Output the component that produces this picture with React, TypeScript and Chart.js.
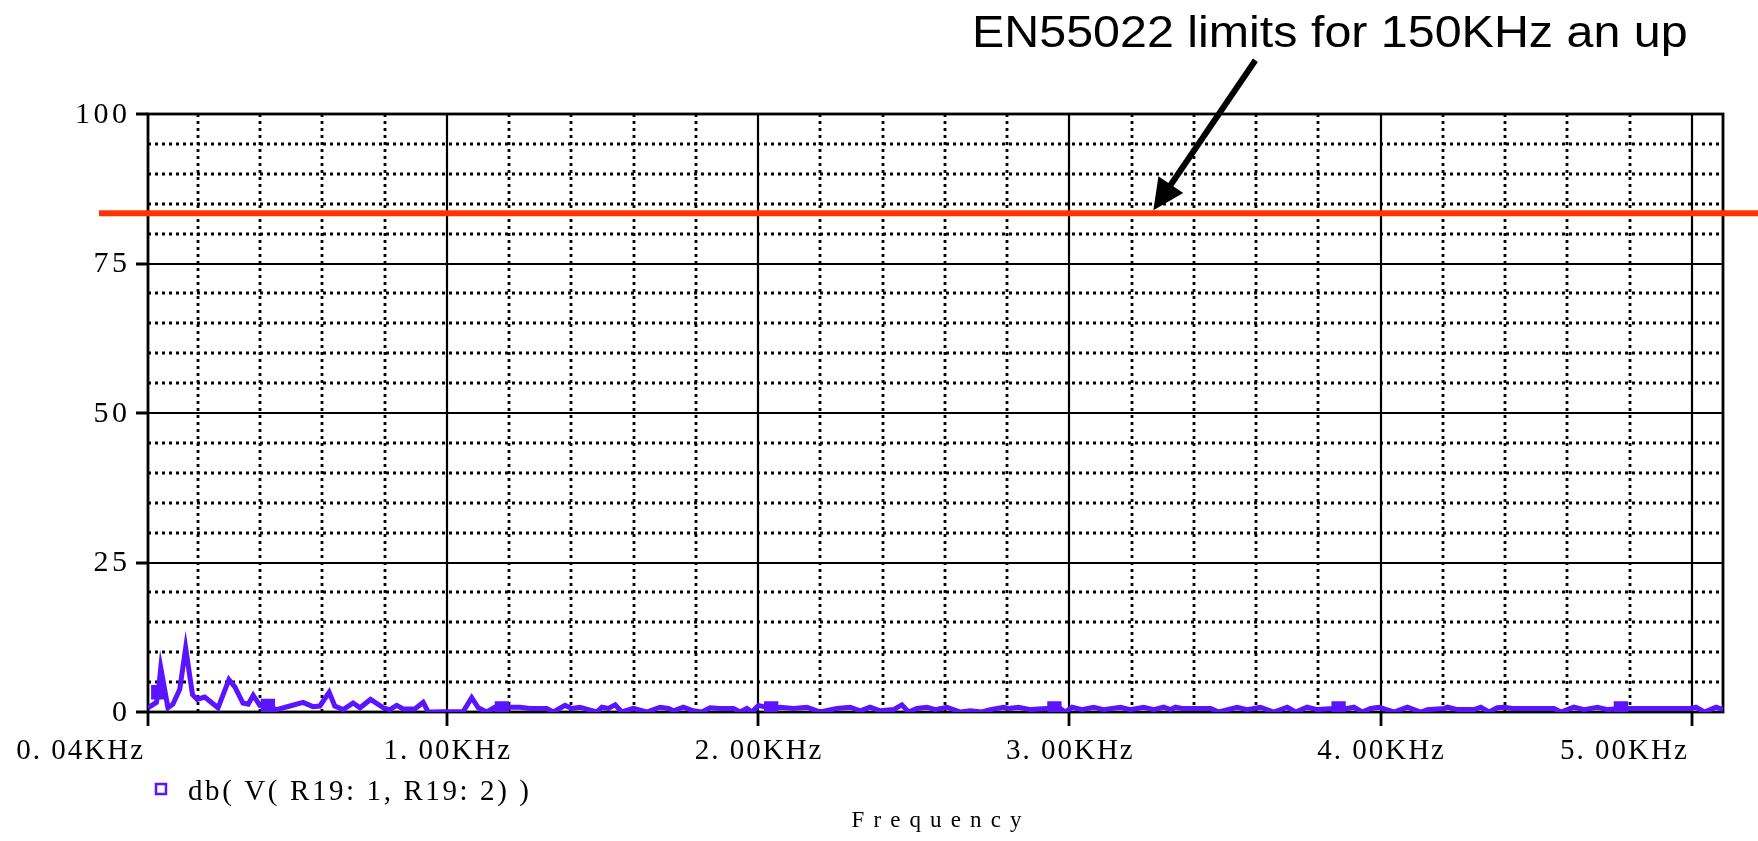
import React, { useEffect, useRef } from "react";
import { Chart, registerables } from "chart.js";

Chart.register(...registerables);

// ---------- data ----------
const freqKHz = [
  0.04, 0.067, 0.073, 0.081, 0.104, 0.12, 0.142, 0.161, 0.183, 0.198, 0.222, 0.265, 0.3, 0.319, 0.345, 0.362,
  0.378, 0.399, 0.425, 0.453, 0.496, 0.538, 0.57, 0.592, 0.622, 0.64, 0.667, 0.699, 0.721, 0.755, 0.796, 0.817,
  0.839, 0.86, 0.897, 0.924, 0.94, 1.053, 1.08, 1.101, 1.128, 1.155, 1.177, 1.201, 1.235, 1.267, 1.321, 1.342,
  1.38, 1.401, 1.428, 1.455, 1.482, 1.498, 1.519, 1.541, 1.562, 1.599, 1.642, 1.685, 1.712, 1.728, 1.76, 1.792,
  1.819, 1.846, 1.878, 1.921, 1.942, 1.964, 1.98, 2.001, 2.042, 2.071, 2.114, 2.157, 2.2, 2.253, 2.296, 2.328,
  2.36, 2.392, 2.435, 2.462, 2.483, 2.51, 2.543, 2.569, 2.607, 2.65, 2.682, 2.719, 2.746, 2.789, 2.805, 2.837,
  2.875, 2.928, 2.952, 2.971, 2.987, 3.009, 3.041, 3.078, 3.11, 3.164, 3.196, 3.239, 3.271, 3.303, 3.325, 3.341,
  3.362, 3.454, 3.48, 3.539, 3.571, 3.614, 3.657, 3.7, 3.727, 3.764, 3.797, 3.85, 3.865, 3.893, 3.914, 3.941,
  3.968, 3.995, 4.043, 4.086, 4.129, 4.15, 4.204, 4.215, 4.247, 4.3, 4.322, 4.348, 4.375, 4.397, 4.424, 4.557,
  4.579, 4.621, 4.654, 4.697, 4.729, 4.772, 4.814, 4.997, 5.013, 5.04, 5.078, 5.1,
];
const magDb = [
  0.7, 1.6, 3.3, 7.4, 0.7, 1.3, 3.8, 10.7, 2.9, 2.1, 2.5, 0.7, 5.4, 4.2, 1.5, 1.3,
  2.8, 1.1, 1.0, 0.4, 1.0, 1.6, 0.9, 1.0, 3.3, 1.0, 0.4, 1.5, 0.7, 2.1, 0.7, 0.4,
  1.1, 0.5, 0.5, 1.6, 0.0, 0.1, 2.4, 0.7, 0.0, 0.8, 0.6, 0.8, 0.8, 0.6, 0.6, 0.0,
  1.1, 0.6, 0.8, 0.4, 0.0, 0.8, 0.6, 1.2, 0.0, 0.6, 0.0, 0.8, 0.6, 0.2, 0.8, 0.2,
  0.0, 0.7, 0.6, 0.6, 0.0, 0.6, 0.0, 1.1, 0.6, 0.8, 0.6, 0.8, 0.0, 0.6, 0.8, 0.2,
  0.8, 0.2, 0.4, 1.2, 0.0, 0.6, 0.8, 0.4, 0.8, 0.0, 0.2, 0.0, 0.4, 0.8, 0.6, 0.8,
  0.4, 0.6, 0.6, 0.6, 0.0, 0.8, 0.4, 0.8, 0.4, 0.8, 0.4, 0.8, 0.4, 0.8, 0.4, 0.8,
  0.6, 0.6, 0.0, 0.8, 0.4, 0.8, 0.0, 0.8, 0.0, 0.8, 0.4, 0.6, 0.6, 0.6, 0.8, 0.0,
  0.6, 0.8, 0.0, 0.8, 0.0, 0.4, 0.6, 0.8, 0.4, 0.4, 0.8, 0.0, 0.7, 0.8, 0.6, 0.6,
  0.0, 0.8, 0.4, 0.8, 0.4, 0.6, 0.6, 0.6, 0.8, 0.0, 0.8, 0.4,
];
const markerFreqs = [0.073, 0.425, 1.177, 2.042, 2.952, 3.865, 4.772];

const xMin = 0.04;
const xMax = 5.1;
const xLabelValues = [0.04, 1, 2, 3, 4, 5];
const xLabelTexts = ["0. 04KHz", "1. 00KHz", "2. 00KHz", "3. 00KHz", "4. 00KHz", "5. 00KHz"];
const xMajorTicks = [1, 2, 3, 4, 5];
const xMinorTicks = [
  0.2, 0.4, 0.6, 0.8, 1.2, 1.4, 1.6, 1.8, 2.2, 2.4, 2.6, 2.8, 3.2, 3.4, 3.6, 3.8, 4.2, 4.4, 4.6, 4.8,
];
const yLabelValues = [0, 25, 50, 75, 100];
const yLabelTexts = ["0", "25", "50", "75", "100"];
const yMajorTicks = [25, 50, 75];
const yMinorTicks = [5, 10, 15, 20, 30, 35, 40, 45, 55, 60, 65, 70, 80, 85, 90, 95];

const limitDb = 83.4;
const arrowTipKHz = 3.27;
const seriesLabel = "db( V( R19: 1, R19: 2) )";
const xTitle = "Frequency";
const annotationText = "EN55022 limits for 150KHz an up";

// ---------- styles ----------
const TRACE = "#5a14ff";
const LIMIT = "#ff3300";
const SERIF = '"Liberation Serif", "Times New Roman", serif';
const SANS = '"Liberation Sans", Arial, sans-serif';

function drawSpaced(
  ctx: CanvasRenderingContext2D,
  text: string,
  x: number,
  y: number,
  gap: number,
  align: "left" | "right" | "center"
) {
  const chars = Array.from(text);
  const widths = chars.map((c) => ctx.measureText(c).width);
  const total = widths.reduce((a, b) => a + b, 0) + gap * (chars.length - 1);
  let cx = align === "left" ? x : align === "right" ? x - total : x - total / 2;
  ctx.textAlign = "left";
  chars.forEach((c, i) => {
    ctx.fillText(c, cx, y);
    cx += widths[i] + gap;
  });
}

const framePlugin = {
  id: "pspiceFrame",
  beforeDatasetsDraw(chart: any) {
    const { ctx, chartArea: a } = chart;
    const xs = chart.scales.x;
    const ys = chart.scales.y;
    ctx.save();
    ctx.strokeStyle = "#000";
    // minor dotted grid
    ctx.lineWidth = 2.8;
    ctx.setLineDash([3, 4]);
    ctx.beginPath();
    xMinorTicks.forEach((v) => {
      const px = Math.round(xs.getPixelForValue(v));
      ctx.moveTo(px, a.top);
      ctx.lineTo(px, a.bottom);
    });
    yMinorTicks.forEach((v) => {
      const py = Math.round(ys.getPixelForValue(v));
      ctx.moveTo(a.left, py);
      ctx.lineTo(a.right, py);
    });
    ctx.stroke();
    ctx.setLineDash([]);
    // major solid grid
    ctx.lineWidth = 2.2;
    ctx.beginPath();
    xMajorTicks.forEach((v) => {
      const px = Math.round(xs.getPixelForValue(v));
      ctx.moveTo(px, a.top);
      ctx.lineTo(px, a.bottom);
    });
    yMajorTicks.forEach((v) => {
      const py = Math.round(ys.getPixelForValue(v));
      ctx.moveTo(a.left, py);
      ctx.lineTo(a.right, py);
    });
    ctx.stroke();
    // frame
    ctx.lineWidth = 2.8;
    ctx.strokeRect(a.left, a.top, a.right - a.left, a.bottom - a.top);
    // outward tick marks
    ctx.beginPath();
    yLabelValues.forEach((v) => {
      const py = Math.round(ys.getPixelForValue(v));
      ctx.moveTo(a.left - 12, py);
      ctx.lineTo(a.left, py);
    });
    xLabelValues.forEach((v) => {
      const px = Math.round(xs.getPixelForValue(v));
      ctx.moveTo(px, a.bottom);
      ctx.lineTo(px, a.bottom + 14);
    });
    ctx.stroke();
    ctx.restore();
  },
  afterDraw(chart: any) {
    const { ctx, chartArea: a, width } = chart;
    const xs = chart.scales.x;
    const ys = chart.scales.y;
    ctx.save();
    ctx.fillStyle = "#000";

    // y tick labels
    ctx.font = `30px ${SERIF}`;
    ctx.textBaseline = "middle";
    yLabelValues.forEach((v, i) => {
      drawSpaced(ctx, yLabelTexts[i], a.left - 21, ys.getPixelForValue(v) + 1, 3.5, "right");
    });

    // x tick labels
    ctx.font = `29px ${SERIF}`;
    ctx.textBaseline = "alphabetic";
    xLabelValues.forEach((v, i) => {
      const px = xs.getPixelForValue(v);
      const last = i === xLabelValues.length - 1;
      if (i === 0 || last) drawSpaced(ctx, xLabelTexts[i], px - 5, a.bottom + 47, 2, "right");
      else drawSpaced(ctx, xLabelTexts[i], px, a.bottom + 47, 2, "center");
    });

    // legend
    ctx.strokeStyle = TRACE;
    ctx.lineWidth = 2.5;
    ctx.strokeRect(156, 784, 10, 10);
    ctx.font = `29px ${SERIF}`;
    drawSpaced(ctx, seriesLabel, 188, 800, 2.6, "left");

    // axis title
    ctx.font = `23px ${SERIF}`;
    drawSpaced(ctx, xTitle, (a.left + a.right) / 2 + 1, 827, 9.1, "center");

    // limit line
    const ly = ys.getPixelForValue(limitDb);
    ctx.fillStyle = LIMIT;
    ctx.fillRect(99, ly - 3, width - 99, 6);

    // annotation text
    ctx.fillStyle = "#000";
    ctx.save();
    ctx.translate(972, 47);
    ctx.scale(1.1, 1);
    ctx.font = `44px ${SANS}`;
    ctx.textAlign = "left";
    ctx.textBaseline = "alphabetic";
    ctx.fillText(annotationText, 0, 0);
    ctx.restore();

    // arrow
    const tipX = xs.getPixelForValue(arrowTipKHz);
    const tipY = ly - 3;
    const tailX = tipX + 102;
    const tailY = tipY - 150;
    const len = Math.hypot(tailX - tipX, tailY - tipY);
    const ux = (tailX - tipX) / len;
    const uy = (tailY - tipY) / len;
    const headLen = 31;
    const halfW = 15;
    const bx = tipX + ux * headLen;
    const by = tipY + uy * headLen;
    ctx.strokeStyle = "#000";
    ctx.lineWidth = 6;
    ctx.lineCap = "butt";
    ctx.beginPath();
    ctx.moveTo(tailX, tailY);
    ctx.lineTo(bx - ux * 4, by - uy * 4);
    ctx.stroke();
    ctx.beginPath();
    ctx.moveTo(tipX, tipY);
    ctx.lineTo(bx - uy * halfW, by + ux * halfW);
    ctx.lineTo(bx + uy * halfW, by - ux * halfW);
    ctx.closePath();
    ctx.fill();

    ctx.restore();
  },
};

export default function App() {
  const canvasRef = useRef<HTMLCanvasElement | null>(null);

  useEffect(() => {
    const canvas = canvasRef.current;
    if (!canvas) return;
    const markerIdx = new Set(markerFreqs.map((f) => freqKHz.indexOf(f)));
    const points = freqKHz.map((f, i) => ({ x: f, y: magDb[i] }));
    const chart = new Chart(canvas, {
      type: "line",
      data: {
        datasets: [
          {
            label: seriesLabel,
            data: points,
            borderColor: TRACE,
            backgroundColor: TRACE,
            borderWidth: 5,
            tension: 0,
            pointStyle: "rect",
            pointRadius: (c: any) => (markerIdx.has(c.dataIndex) ? 8 : 0),
            pointBorderWidth: 3,
            pointBorderColor: TRACE,
            pointBackgroundColor: TRACE,
            fill: false,
          },
        ],
      },
      options: {
        animation: false,
        responsive: false,
        devicePixelRatio: 1,
        events: [],
        layout: { padding: { left: 148, top: 114, right: 35, bottom: 129 } },
        scales: {
          x: { type: "linear", min: xMin, max: xMax, display: false },
          y: { type: "linear", min: 0, max: 100, display: false },
        },
        plugins: { legend: { display: false }, tooltip: { enabled: false } },
      },
      plugins: [framePlugin],
    } as any);
    return () => chart.destroy();
  }, []);

  return (
    <div style={{ position: "fixed", left: 0, top: 0, width: 1758, height: 841, background: "#fff" }}>
      <canvas ref={canvasRef} width={1758} height={841} style={{ display: "block" }} />
    </div>
  );
}
